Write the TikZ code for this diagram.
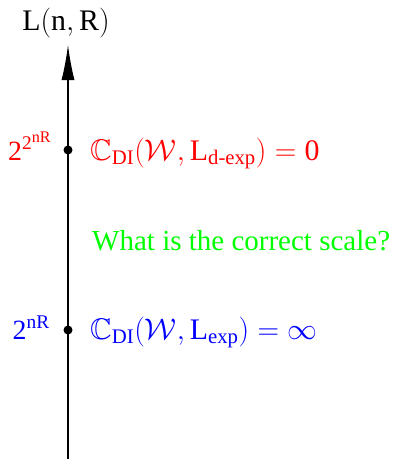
\documentclass[tikz,border=0pt]{standalone}
\usepackage{amsmath,amssymb}
\usepackage{fontspec}
\setmainfont{Liberation Serif}
\usetikzlibrary{arrows.meta}
\DeclareMathSizes{24.88}{24.88}{17.28}{14.4}
\definecolor{myred}{RGB}{255,0,0}
\definecolor{myblue}{RGB}{0,0,255}
\definecolor{mygreen}{RGB}{0,255,0}
\tikzset{
  txt/.style={inner sep=0pt, font=\fontsize{29}{34}\selectfont},
  mtxt/.style={inner sep=0pt, font=\fontsize{24.88}{30}\selectfont, scale=1.2, transform shape},
  ltxt/.style={inner sep=0pt, font=\fontsize{24.88}{30}\selectfont, scale=1.12, transform shape},
  dotmark/.style={circle, fill=black, inner sep=0pt, minimum size=9pt},
}
\begin{document}
\begin{tikzpicture}[x=1pt,y=1pt]
\useasboundingbox (0,0) rectangle (393,-459);
\coordinate (bot) at (68,-459);
\coordinate (top) at (68,-45);
\draw[line width=1.1pt, -{Latex[length=35pt,width=13pt]}] (bot) -- (top);
\node[mtxt, anchor=base] (lab) at (66,-30) {$\mathrm{L}(\mathrm{n},\mathrm{R})$};
\node[dotmark] (d1) at (68,-150) {};
\node[dotmark] (d2) at (68,-330) {};
\node[ltxt, myred, anchor=base east] (l1) at (52,-160) {$\mathrm{2}^{\mathrm{2}^{\mathrm{nR}}}$};
\node[ltxt, myblue, anchor=base east] (l2) at (50,-339) {$\mathrm{2}^{\mathrm{nR}}$};
\node[mtxt, myred, anchor=base west] (r1) at (90,-160) {$\mathbb{C}_{\mathrm{DI}}(\mathcal{W},\mathrm{L}_{\text{d-exp}})=\mathrm{0}$};
\node[txt, mygreen, anchor=base west] (g) at (92,-250) {What is the correct scale?};
\node[mtxt, myblue, anchor=base west] (r2) at (90,-339) {$\mathbb{C}_{\mathrm{DI}}(\mathcal{W},\mathrm{L}_{\text{exp}})=\infty$};
\end{tikzpicture}
\end{document}
